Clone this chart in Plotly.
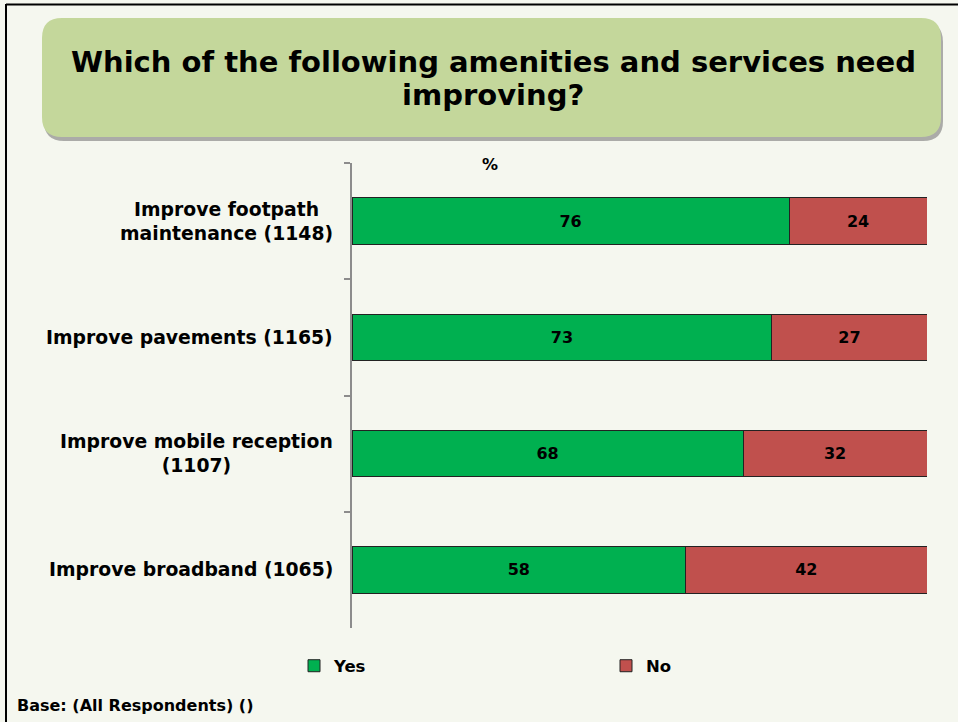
import plotly.graph_objects as go

# Survey results: share of respondents saying each amenity needs improving
categories = [
    "Improve footpath<br>maintenance (1148)",
    "Improve pavements (1165)",
    "Improve mobile reception<br>(1107)",
    "Improve broadband (1065)",
]
yes_values = [76, 73, 68, 58]
no_values = [24, 27, 32, 42]
series_names = ["Yes", "No"]
series_colors = ["#00B050", "#C0504D"]
title_lines = ["Which of the following amenities and services need", "improving?"]

W, H = 958, 722
L, R, T, B = 352, 927, 163, 628  # plot area in pixels

FONT = "DejaVu Sans"


def px(x):
    return (x - L) / (R - L)


def py(y):
    return (B - y) / (B - T)


def rounded_path(x0, y0, x1, y1, r):
    # rounded rectangle path in paper coordinates, built from pixel corners
    pts = [
        f"M {px(x0 + r)},{py(y0)}",
        f"L {px(x1 - r)},{py(y0)}",
        f"Q {px(x1)},{py(y0)} {px(x1)},{py(y0 + r)}",
        f"L {px(x1)},{py(y1 - r)}",
        f"Q {px(x1)},{py(y1)} {px(x1 - r)},{py(y1)}",
        f"L {px(x0 + r)},{py(y1)}",
        f"Q {px(x0)},{py(y1)} {px(x0)},{py(y1 - r)}",
        f"L {px(x0)},{py(y0 + r)}",
        f"Q {px(x0)},{py(y0)} {px(x0 + r)},{py(y0)}",
        "Z",
    ]
    return " ".join(pts)


fig = go.Figure()
for name, vals, color in zip(series_names, [yes_values, no_values], series_colors):
    fig.add_trace(go.Bar(
        y=categories,
        x=vals,
        name=name,
        orientation="h",
        marker=dict(color=color, line=dict(color="#222222", width=1)),
        text=[str(v) for v in vals],
        textposition="inside",
        insidetextanchor="middle",
        textangle=0,
        constraintext="none",
        textfont=dict(family=FONT, size=16, color="black", weight="bold"),
        hoverinfo="skip",
    ))

shapes = [
    # title box shadow and box
    dict(type="path", xref="paper", yref="paper",
         path=rounded_path(44, 22, 943, 141, 20),
         fillcolor="rgba(110,110,110,0.55)", line=dict(width=0), layer="below"),
    dict(type="path", xref="paper", yref="paper",
         path=rounded_path(42, 18, 941, 137, 20),
         fillcolor="#C4D79B", line=dict(width=0), layer="below"),
    # outer frame (left and top edges)
    dict(type="line", xref="paper", yref="paper",
         x0=px(6), x1=px(6), y0=py(4), y1=py(730),
         line=dict(color="black", width=2)),
    dict(type="line", xref="paper", yref="paper",
         x0=px(6), x1=px(970), y0=py(4.5), y1=py(4.5),
         line=dict(color="black", width=2)),
]

annotations = [
    dict(text="<b>%</b>", xref="paper", yref="paper", x=px(490), y=py(164),
         xanchor="center", yanchor="middle", showarrow=False,
         font=dict(family=FONT, size=16, color="black")),
    dict(text="<b>Base: (All Respondents) ()</b>", xref="paper", yref="paper",
         x=px(15), y=py(705), xanchor="left", yanchor="middle", showarrow=False,
         font=dict(family=FONT, size=16, color="black")),
]
for line, ypix in zip(title_lines, [62, 95]):
    annotations.append(dict(
        text=f"<b>{line}</b>", xref="paper", yref="paper", x=px(493), y=py(ypix),
        xanchor="center", yanchor="middle", showarrow=False,
        font=dict(family=FONT, size=29, color="black"),
    ))
for c in categories:
    annotations.append(dict(
        text=f"<b>{c}</b>", xref="paper", yref="y", x=px(335), y=c,
        xanchor="right", yanchor="middle", showarrow=False, align="center",
        font=dict(family=FONT, size=18.8, color="black"),
    ))

fig.update_layout(
    width=W, height=H,
    margin=dict(l=L, r=W - R, t=T, b=H - B, pad=0),
    paper_bgcolor="#F5F7EF",
    plot_bgcolor="#F5F7EF",
    barmode="stack",
    bargap=0.6,
    showlegend=True,
    legend=dict(
        orientation="h", x=px(294), y=py(666), xanchor="left", yanchor="middle",
        traceorder="normal",
        entrywidth=267, entrywidthmode="pixels",
        font=dict(family=FONT, size=16.5, color="black", weight="bold"),
        bgcolor="rgba(0,0,0,0)", itemclick=False, itemdoubleclick=False,
    ),
    xaxis=dict(range=[0, 100], visible=False, fixedrange=True),
    yaxis=dict(
        range=[3.5, -0.5], type="category", showticklabels=False,
        showline=True, linecolor="#8C8C8C", linewidth=2,
        ticks="outside", ticklen=6, tickcolor="#8C8C8C", tickwidth=2,
        tickson="boundaries", showgrid=False, zeroline=False, fixedrange=True,
    ),
    shapes=shapes,
    annotations=annotations,
)

fig.write_html("out.html")
